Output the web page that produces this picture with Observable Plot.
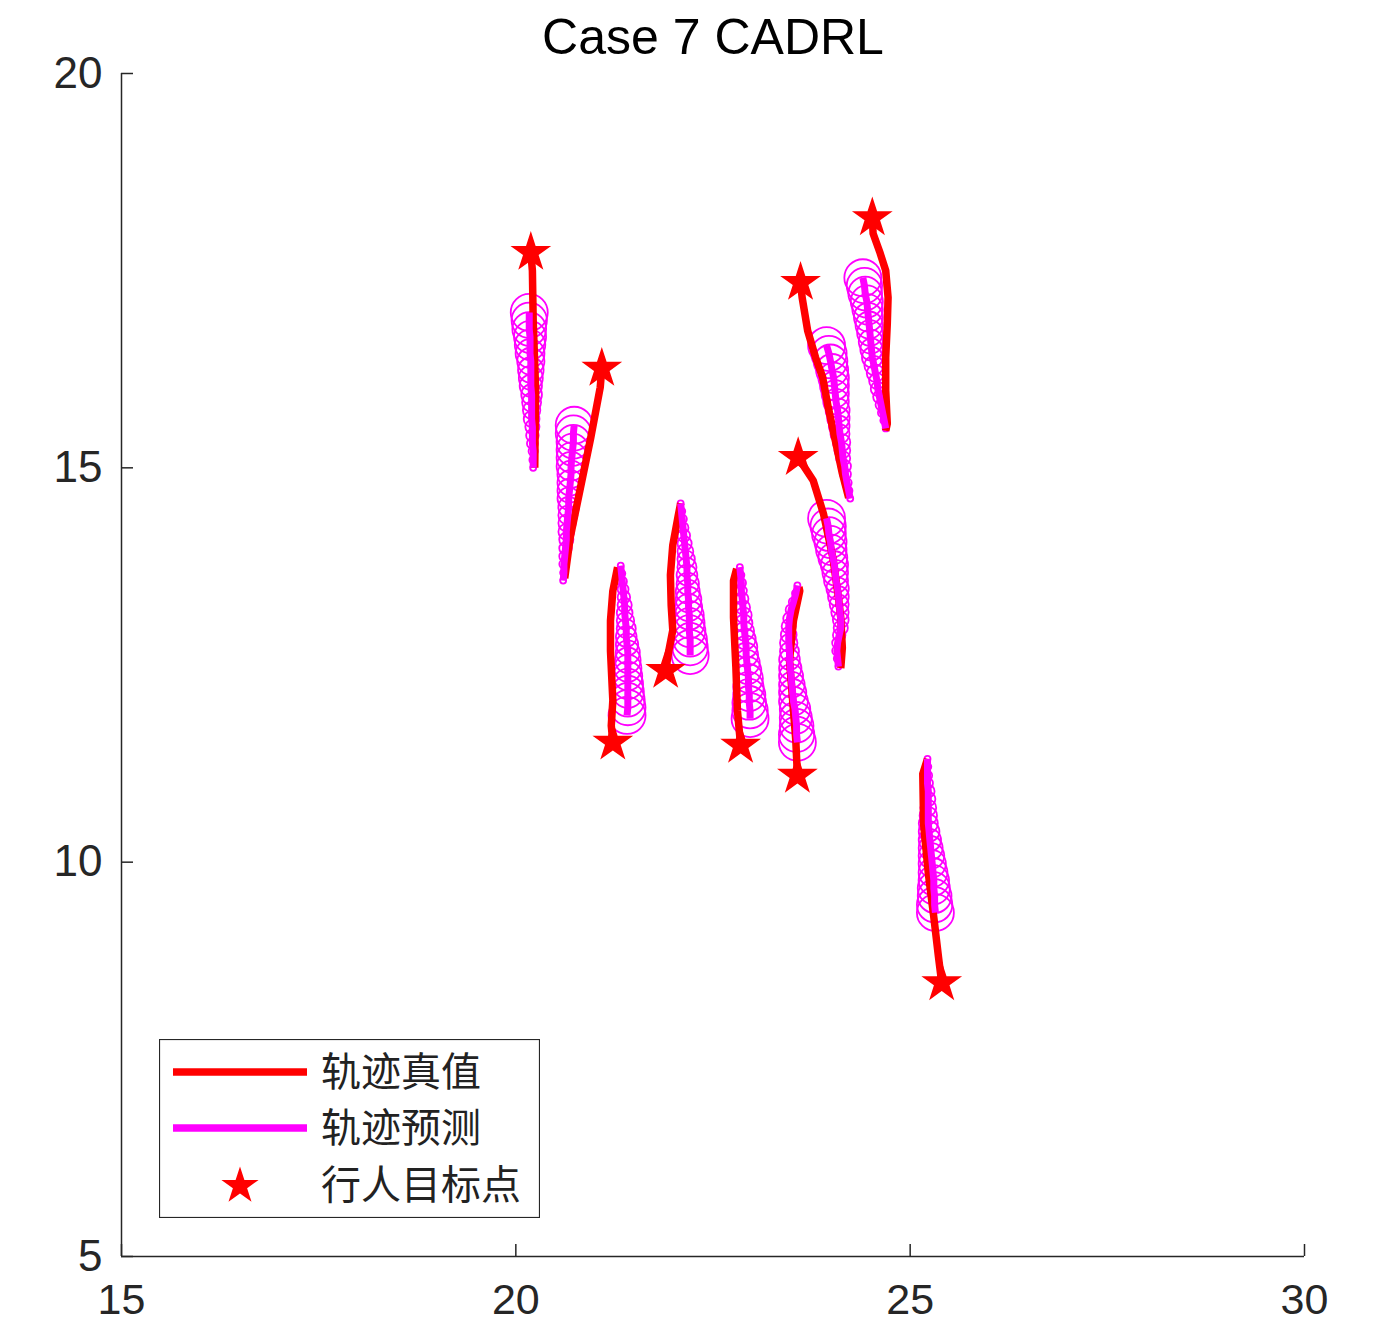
<!DOCTYPE html>
<html><head><meta charset="utf-8">
<script src="https://cdn.jsdelivr.net/npm/d3@7"></script>
<script src="https://cdn.jsdelivr.net/npm/@observablehq/plot@0.6"></script>
<style>
html,body{margin:0;padding:0;background:#fff;}
#wrap{position:relative;width:1384px;height:1323px;}
#legend{position:absolute;left:159px;top:1039px;}
</style></head><body><div id="wrap"></div>
<script>
const title = "Case 7 CADRL";
const xTicks = [15, 20, 25, 30];
const yTicks = [5, 10, 15, 20];
const legendLabels = ["轨迹真值", "轨迹预测", "行人目标点"];

// goal points (stars), one per pedestrian
const goalX = [20.19, 21.09, 21.23, 21.90, 22.85, 23.57, 23.58, 23.61, 24.52, 25.40];
const goalY = [17.73, 16.26, 11.52, 12.43, 11.48, 11.10, 15.13, 17.35, 18.17, 8.47];

// ground-truth trajectories (start -> goal)
const truePaths = [
  [[20.24,15.00],[20.25,16.02],[20.22,16.87],[20.21,17.50],[20.19,17.73]],
  [[20.62,13.60],[20.69,14.12],[20.82,14.75],[20.95,15.38],[21.07,16.02],[21.09,16.26]],
  [[21.29,13.74],[21.23,13.44],[21.20,13.06],[21.20,12.68],[21.23,12.05],[21.21,11.73],[21.23,11.52]],
  [[22.09,14.55],[22.06,14.40],[21.99,14.02],[21.96,13.64],[21.97,13.25],[21.99,12.94],[21.94,12.68],[21.90,12.43]],
  [[22.80,13.72],[22.76,13.57],[22.76,13.10],[22.79,12.47],[22.81,11.92],[22.85,11.48]],
  [[23.59,13.49],[23.60,13.44],[23.52,13.06],[23.47,12.56],[23.51,12.05],[23.55,11.54],[23.57,11.10]],
  [[24.12,12.46],[24.14,12.72],[24.12,13.10],[24.09,13.36],[24.02,13.86],[23.90,14.42],[23.77,14.84],[23.58,15.13]],
  [[24.22,14.62],[24.14,14.93],[24.05,15.35],[23.96,15.77],[23.89,16.15],[23.80,16.40],[23.70,16.74],[23.63,17.16],[23.61,17.35]],
  [[24.69,15.47],[24.71,15.56],[24.69,15.98],[24.69,16.40],[24.71,16.83],[24.72,17.16],[24.69,17.50],[24.62,17.72],[24.53,17.97],[24.52,18.17]],
  [[25.22,11.31],[25.16,11.12],[25.17,10.49],[25.23,9.86],[25.30,9.30],[25.36,8.79],[25.40,8.47]]
];

// predicted trajectories (one circle per predicted step)
const predPaths = [
  [[20.22,15.00],[20.22,15.10],[20.22,15.21],[20.21,15.31],[20.21,15.41],[20.21,15.52],[20.20,15.62],[20.20,15.73],[20.20,15.83],[20.20,15.93],[20.19,16.04],[20.19,16.14],[20.19,16.24],[20.19,16.35],[20.18,16.45],[20.18,16.56],[20.18,16.66],[20.17,16.76],[20.17,16.87],[20.17,16.97]],
  [[20.60,13.57],[20.61,13.67],[20.61,13.78],[20.62,13.88],[20.63,13.98],[20.64,14.09],[20.64,14.19],[20.65,14.30],[20.66,14.40],[20.67,14.50],[20.67,14.61],[20.68,14.71],[20.69,14.81],[20.70,14.92],[20.70,15.02],[20.71,15.13],[20.72,15.23],[20.73,15.33],[20.73,15.44],[20.74,15.54]],
  [[21.33,13.76],[21.34,13.66],[21.35,13.56],[21.36,13.46],[21.37,13.36],[21.38,13.26],[21.38,13.16],[21.39,13.06],[21.40,12.96],[21.40,12.86],[21.41,12.76],[21.42,12.66],[21.42,12.56],[21.42,12.46],[21.42,12.36],[21.42,12.26],[21.42,12.16],[21.42,12.06],[21.42,11.96],[21.41,11.86]],
  [[22.09,14.55],[22.10,14.45],[22.11,14.35],[22.12,14.24],[22.13,14.14],[22.14,14.04],[22.15,13.94],[22.16,13.84],[22.17,13.74],[22.17,13.64],[22.18,13.53],[22.18,13.43],[22.19,13.33],[22.19,13.23],[22.20,13.13],[22.20,13.03],[22.20,12.93],[22.21,12.82],[22.21,12.72],[22.21,12.62]],
  [[22.84,13.74],[22.85,13.64],[22.86,13.54],[22.86,13.44],[22.87,13.34],[22.88,13.23],[22.89,13.13],[22.89,13.03],[22.90,12.93],[22.91,12.83],[22.92,12.73],[22.92,12.63],[22.93,12.53],[22.94,12.43],[22.95,12.33],[22.95,12.22],[22.96,12.12],[22.96,12.02],[22.97,11.92],[22.97,11.82]],
  [[23.57,13.51],[23.55,13.41],[23.52,13.30],[23.49,13.20],[23.47,13.09],[23.46,12.99],[23.46,12.88],[23.46,12.78],[23.47,12.67],[23.47,12.57],[23.48,12.46],[23.49,12.36],[23.50,12.25],[23.51,12.15],[23.52,12.04],[23.54,11.94],[23.55,11.83],[23.56,11.73],[23.56,11.62],[23.57,11.52]],
  [[24.09,12.48],[24.08,12.58],[24.07,12.68],[24.08,12.78],[24.10,12.88],[24.12,12.97],[24.12,13.07],[24.11,13.17],[24.10,13.27],[24.09,13.37],[24.08,13.47],[24.06,13.57],[24.05,13.67],[24.04,13.77],[24.02,13.86],[24.00,13.96],[23.99,14.06],[23.97,14.16],[23.96,14.26],[23.94,14.36]],
  [[24.24,14.61],[24.22,14.71],[24.20,14.81],[24.18,14.92],[24.17,15.02],[24.15,15.12],[24.14,15.22],[24.13,15.32],[24.11,15.43],[24.10,15.53],[24.09,15.63],[24.08,15.73],[24.06,15.84],[24.05,15.94],[24.04,16.04],[24.03,16.14],[24.01,16.24],[23.99,16.35],[23.97,16.45],[23.94,16.55]],
  [[24.69,15.50],[24.67,15.60],[24.65,15.70],[24.63,15.80],[24.61,15.90],[24.59,16.00],[24.58,16.10],[24.56,16.20],[24.54,16.30],[24.52,16.40],[24.51,16.50],[24.50,16.60],[24.49,16.71],[24.48,16.81],[24.47,16.91],[24.46,17.01],[24.45,17.11],[24.43,17.21],[24.42,17.31],[24.40,17.41]],
  [[25.22,11.31],[25.22,11.21],[25.22,11.10],[25.22,11.00],[25.23,10.90],[25.23,10.80],[25.23,10.69],[25.23,10.59],[25.23,10.49],[25.24,10.39],[25.25,10.28],[25.26,10.18],[25.27,10.08],[25.28,9.98],[25.29,9.87],[25.30,9.77],[25.30,9.67],[25.31,9.57],[25.31,9.46],[25.32,9.36]]
];

const RED = "#ff0000", MAG = "#ff00ff", INK = "#262626";

const trueRows = truePaths.flatMap((p, i) => p.map(([x, y], k) => ({ped: i, step: k, x, y})));
const predRows = predPaths.flatMap((p, i) => p.map(([x, y], k) => ({ped: i, step: k, x, y})));
const goalRows = goalX.map((x, i) => ({ped: i, x, y: goalY[i]}));

const chart = Plot.plot({
  width: 1384,
  height: 1323,
  marginLeft: 121,
  marginRight: 80,
  marginTop: 73,
  marginBottom: 67,
  x: {domain: [15, 30], label: null},
  y: {domain: [5, 20], label: null},
  r: {type: "linear", domain: [0, 19], range: [3, 18.5]},
  style: {fontFamily: "'Liberation Sans', Arial, Helvetica, sans-serif", fontSize: "44px", color: INK, background: "#fff"},
  marks: [
    Plot.ruleY([5], {stroke: INK, strokeWidth: 1.5}),
    Plot.ruleX([15], {stroke: INK, strokeWidth: 1.5}),
    Plot.axisX({ticks: xTicks, tickSize: -12, tickFormat: () => "", label: null, stroke: INK, strokeWidth: 1.5}),
    Plot.axisY({ticks: yTicks, tickSize: -12, tickFormat: () => "", label: null, stroke: INK, strokeWidth: 1.5}),
    Plot.axisX({ticks: xTicks, tickSize: 0, tickPadding: 27, label: null, fill: INK, fontSize: 43}),
    Plot.axisY({ticks: yTicks, tickSize: 0, tickPadding: 19, label: null, fill: INK, fontSize: 44}),
    Plot.dot(predRows, {x: "x", y: "y", r: "step", stroke: MAG, strokeWidth: 1.8, fill: "none", sort: null}),
    Plot.line(trueRows, {x: "x", y: "y", z: "ped", stroke: RED, strokeWidth: 7.5, strokeLinecap: "butt"}),
    Plot.line(predRows, {x: "x", y: "y", z: "ped", stroke: MAG, strokeWidth: 7, strokeLinecap: "butt"}),
    Plot.dot(goalRows, {x: "x", y: "y", symbol: "star", r: 12.8, fill: RED, stroke: "none"}),
    Plot.text([title], {text: d => d, frameAnchor: "top", dy: -36, lineAnchor: "middle", fontSize: 50, fill: "#000"})
  ]
});
document.getElementById("wrap").appendChild(chart);

// legend box (inside the axes, lower left)
const LW = 381, LH = 179;
const leg = d3.select("#wrap").append("svg").attr("id", "legend").attr("width", LW).attr("height", LH);
leg.append("rect").attr("x", 0.5).attr("y", 0.5).attr("width", LW - 1).attr("height", LH - 1)
  .attr("fill", "#fff").attr("stroke", INK).attr("stroke-width", 1.2);
const rowsY = [33, 89, 146];
leg.append("line").attr("x1", 14).attr("x2", 148).attr("y1", rowsY[0]).attr("y2", rowsY[0]).attr("stroke", RED).attr("stroke-width", 7.5);
leg.append("line").attr("x1", 14).attr("x2", 148).attr("y1", rowsY[1]).attr("y2", rowsY[1]).attr("stroke", MAG).attr("stroke-width", 7.5);
leg.append("path").attr("d", d3.symbol(d3.symbolStar, 430)()).attr("transform", `translate(81,${rowsY[2] + 1})`).attr("fill", RED);
legendLabels.forEach((t, i) => {
  leg.append("text").attr("x", 162).attr("y", rowsY[i]).attr("dy", "0.36em")
    .attr("font-family", "'Noto Sans CJK SC', sans-serif").attr("font-size", 40).attr("fill", "#222").text(t);
});
</script>
</body></html>
